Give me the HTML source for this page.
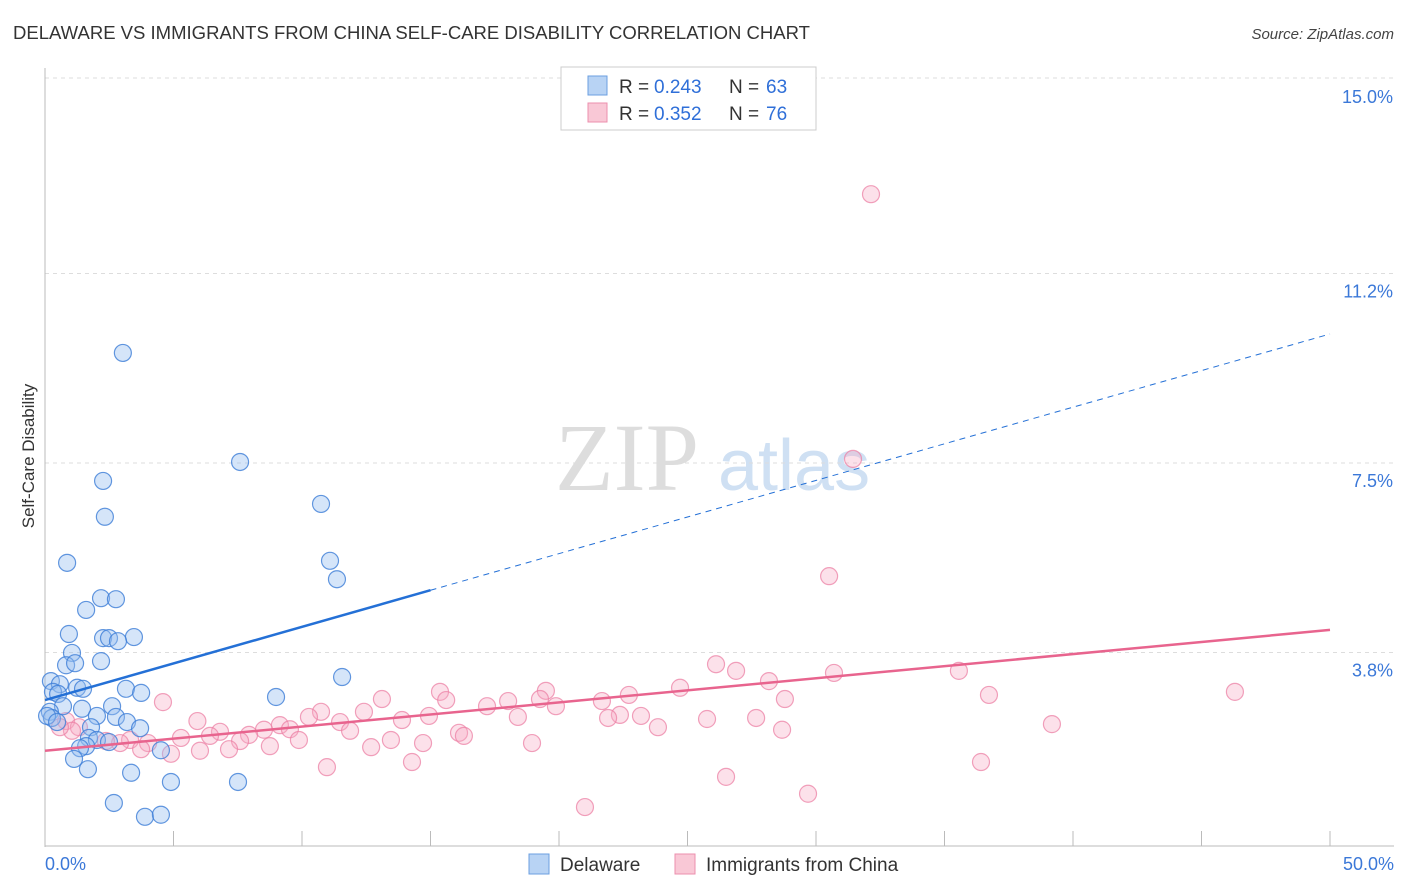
<!DOCTYPE html>
<html><head><meta charset="utf-8">
<style>
body{margin:0;background:#fff;font-family:"Liberation Sans",sans-serif;}
svg{display:block}
</style></head>
<body>
<svg id="chart" width="1406" height="892">
<text x="13" y="39" font-size="18" fill="#333" textLength="797" lengthAdjust="spacingAndGlyphs">DELAWARE VS IMMIGRANTS FROM CHINA SELF-CARE DISABILITY CORRELATION CHART</text>
<text x="1394" y="39" font-size="15" fill="#444" font-style="italic" text-anchor="end">Source: ZipAtlas.com</text>
<text x="555" y="490" font-size="96" fill="#ddd" font-family="Liberation Serif,serif">ZIP</text>
<text x="718" y="490" font-size="72" fill="#cfe0f3">atlas</text>
<g id="grid"></g>
<g id="axes"></g>
<g id="pts"></g>
<g id="trend"></g>
<text transform="translate(34,456) rotate(-90)" font-size="17" fill="#333" text-anchor="middle">Self-Care Disability</text>
<g>
<rect x="561" y="67" width="255" height="63" fill="#fff" stroke="#ccc"/>
<rect x="588" y="76" width="19" height="19" fill="#b8d3f4" stroke="#6b9fe0"/>
<rect x="588" y="103" width="19" height="19" fill="#f9c8d6" stroke="#ec8fae"/>
<text x="619" y="93" font-size="19" fill="#333">R =</text>
<text x="654" y="93" font-size="19" fill="#2f6fd8">0.243</text>
<text x="729" y="93" font-size="19" fill="#333">N =</text>
<text x="766" y="93" font-size="19" fill="#2f6fd8">63</text>
<text x="619" y="120" font-size="19" fill="#333">R =</text>
<text x="654" y="120" font-size="19" fill="#2f6fd8">0.352</text>
<text x="729" y="120" font-size="19" fill="#333">N =</text>
<text x="766" y="120" font-size="19" fill="#2f6fd8">76</text>
</g>
<g>
<rect x="529" y="854" width="20" height="20" fill="#b8d3f4" stroke="#6b9fe0"/>
<text x="560" y="871" font-size="19" fill="#333">Delaware</text>
<rect x="675" y="854" width="20" height="20" fill="#f9c8d6" stroke="#ec8fae"/>
<text x="706" y="871" font-size="19" fill="#333">Immigrants from China</text>
</g>
</svg>
<script>
const yTicks=[3.8,7.5,11.2,15.0];
const yTickLabels=["3.8%","7.5%","11.2%","15.0%"];
const blueX=[3.03,7.59,2.26,2.33,10.74,0.86,11.09,11.36,2.18,2.76,1.60,0.93,2.26,2.49,3.46,2.84,1.05,2.18,0.82,1.17,11.56,0.23,0.58,1.25,1.48,0.31,0.51,3.15,3.74,8.99,0.70,1.44,2.61,0.19,0.27,0.08,0.47,2.02,2.76,3.19,3.70,1.79,1.71,2.02,2.49,1.60,1.36,4.51,1.13,1.67,3.35,4.90,7.51,2.68,3.89,4.51];
const blueY=[9.65,7.52,7.15,6.45,6.70,5.55,5.59,5.23,4.86,4.84,4.63,4.16,4.08,4.08,4.10,4.02,3.79,3.63,3.55,3.59,3.32,3.24,3.18,3.11,3.09,3.03,2.99,3.09,3.01,2.93,2.75,2.70,2.75,2.64,2.52,2.56,2.44,2.56,2.54,2.44,2.32,2.34,2.13,2.09,2.05,1.97,1.93,1.89,1.72,1.52,1.45,1.27,1.27,0.86,0.59,0.63];
const pinkX=[32.14,31.44,30.51,26.11,26.89,30.70,35.56,28.17,24.71,36.73,46.30,28.79,22.72,21.67,19.49,19.26,19.88,18.02,17.20,15.37,15.61,13.11,4.59,22.37,21.91,23.19,23.85,25.76,27.67,28.68,18.40,14.94,13.89,12.41,10.74,10.27,11.48,11.87,9.14,9.53,8.52,7.94,7.59,6.81,6.42,5.93,5.29,4.01,3.31,2.92,2.37,3.74,4.90,6.03,7.16,8.75,9.88,12.69,13.46,14.71,16.11,16.30,18.95,10.97,14.28,39.18,36.42,26.50,29.69,21.01,0.82,1.32,1.05,0.58];
const pinkY=[12.75,7.58,5.29,3.57,3.44,3.40,3.44,3.24,3.11,2.97,3.03,2.89,2.97,2.85,3.05,2.89,2.75,2.85,2.75,3.03,2.87,2.89,2.83,2.58,2.52,2.56,2.34,2.50,2.52,2.29,2.54,2.56,2.48,2.64,2.64,2.54,2.44,2.27,2.38,2.30,2.29,2.19,2.07,2.25,2.17,2.46,2.13,2.03,2.09,2.03,2.07,1.91,1.82,1.88,1.91,1.97,2.09,1.95,2.09,2.03,2.23,2.17,2.03,1.56,1.66,2.40,1.66,1.37,1.04,0.78,2.46,2.34,2.27,2.34];
const blueTrend=[2.87,0.143];
const pinkTrend=[1.88,0.0472];
const X=v=>45+v*1285/50, Y=v=>847-v*51.2;
const NS="http://www.w3.org/2000/svg";
function mk(tag,attrs,parent){const e=document.createElementNS(NS,tag);for(const k in attrs)e.setAttribute(k,attrs[k]);parent.appendChild(e);return e;}
const grid=document.getElementById('grid'),axes=document.getElementById('axes'),pts=document.getElementById('pts'),tr=document.getElementById('trend');
yTicks.forEach((t,i)=>{
 const l=mk('line',{x1:45,x2:1394,y1:Y(t)+(t===15?-1:0),y2:Y(t)+(t===15?-1:0),stroke:'#ddd','stroke-dasharray':'4,4'},grid);
 
 
 const tx=mk('text',{x:1393,y:Y(t)+24,'font-size':18,fill:'#3b78d8','text-anchor':'end'},axes);
 tx.textContent=yTickLabels[i];
 
 
});
const ya=mk('line',{x1:45,x2:45,y1:68,y2:847,stroke:'#bbb'},axes);


const xa=mk('line',{x1:45,x2:1394,y1:846,y2:846,stroke:'#bbb'},axes);


for(let i=1;i<=10;i++){const t=mk('line',{x1:X(i*5),x2:X(i*5),y1:831,y2:846,stroke:'#bbb'},axes);
 
 }
[[0,"0.0%","start",45],[50,"50.0%","end",1394]].forEach(a=>{const t=mk('text',{x:a[3],y:870,'font-size':18,fill:'#3b78d8','text-anchor':a[2]},axes);t.textContent=a[1];
 
 });
pinkX.forEach((x,i)=>{const c=mk('circle',{cx:X(x),cy:Y(pinkY[i]),r:8.5,fill:'rgba(246,170,196,0.35)',stroke:'rgba(236,130,166,0.75)','stroke-width':1.2},pts);
 
 });
blueX.forEach((x,i)=>{const c=mk('circle',{cx:X(x),cy:Y(blueY[i]),r:8.5,fill:'rgba(150,190,240,0.4)',stroke:'rgba(60,125,215,0.8)','stroke-width':1.2},pts);
 
 });
const b1=mk('line',{x1:X(0),y1:Y(blueTrend[0]),x2:X(15),y2:Y(blueTrend[0]+15*blueTrend[1]),stroke:'#2470d6','stroke-width':2.5},tr);


const b2=mk('line',{x1:X(15),y1:Y(blueTrend[0]+15*blueTrend[1]),x2:X(50),y2:Y(blueTrend[0]+50*blueTrend[1]),stroke:'#2470d6','stroke-width':1,'stroke-dasharray':'6,5'},tr);


const p1=mk('line',{x1:X(0),y1:Y(pinkTrend[0]),x2:X(50),y2:Y(pinkTrend[0]+50*pinkTrend[1]),stroke:'#e8648e','stroke-width':2.5},tr);


</script>
</body></html>
